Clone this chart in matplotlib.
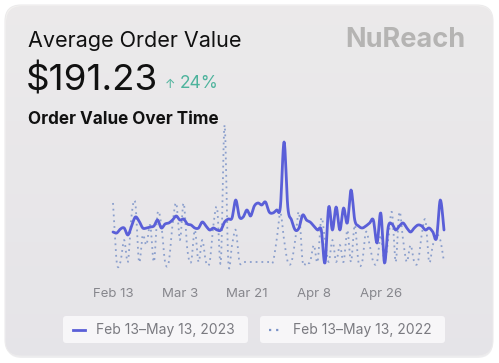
import numpy as np
import matplotlib.pyplot as plt
from matplotlib.patches import FancyBboxPatch
from matplotlib.lines import Line2D

plt.rcParams['font.family'] = ['Inter', 'DejaVu Sans']

# daily average order value, Feb 13 - May 13
days = np.arange(90)
value_2023 = [190, 185, 205, 210, 175, 220, 265, 245, 210, 210,
              215, 220, 250, 210, 230, 235, 250, 270, 250, 255,
              230, 225, 210, 210, 240, 220, 200, 210, 200, 200,
              240, 255, 260, 350, 265, 265, 300, 270, 320, 335,
              325, 340, 290, 285, 300, 315, 640, 315, 250, 200,
              210, 275, 250, 240, 220, 200, 200, 35, 315, 200,
              315, 200, 310, 235, 400, 250, 220, 210, 220, 235,
              250, 135, 285, 35, 215, 230, 200, 220, 235, 210,
              190, 210, 225, 220, 200, 210, 190, 160, 350, 200]
value_2022 = [335, 40, 40, 150, 40, 275, 335, 40, 175, 125,
              225, 40, 285, 225, 40, 40, 225, 335, 150, 335,
              100, 40, 200, 40, 150, 40, 40, 225, 310, 40,
              725, 40, 125, 200, 40, 40, 40, 40, 40, 40,
              40, 40, 40, 40, 150, 285, 150, 40, 40, 150,
              290, 40, 40, 40, 125, 40, 260, 150, 40, 150,
              40, 125, 40, 200, 40, 225, 40, 40, 190, 125,
              40, 40, 175, 40, 150, 290, 40, 290, 150, 40,
              125, 40, 40, 175, 250, 40, 125, 175, 150, 40]
tick_days = [0, 18, 36, 54, 72]
tick_labels = ['Feb 13', 'Mar 3', 'Mar 21', 'Apr 8', 'Apr 26']
legend_labels = ['Feb 13\u2013May 13, 2023', 'Feb 13\u2013May 13, 2022']


def smooth(x, y, n=8):
    # catmull-rom curve through the points, for a rounded line look
    x = np.asarray(x, float)
    y = np.asarray(y, float)
    px = np.concatenate([[x[0]], x, [x[-1]]])
    py = np.concatenate([[y[0]], y, [y[-1]]])
    xs, ys = [], []
    s = np.linspace(0, 1, n, endpoint=False)
    for i in range(1, len(px) - 2):
        for p, out in ((px, xs), (py, ys)):
            p0, p1, p2, p3 = p[i - 1], p[i], p[i + 1], p[i + 2]
            out.extend(0.5 * (2 * p1 + (-p0 + p2) * s
                              + (2 * p0 - 5 * p1 + 4 * p2 - p3) * s ** 2
                              + (-p0 + 3 * p1 - 3 * p2 + p3) * s ** 3))
    xs.append(x[-1])
    ys.append(y[-1])
    return xs, ys


W, H = 499, 363
fig = plt.figure(figsize=(W / 100, H / 100), dpi=100)
fig.patch.set_facecolor('white')

# card background with soft vertical gradient
bg = fig.add_axes([0, 0, 1, 1])
bg.set_xlim(0, W)
bg.set_ylim(H, 0)
bg.axis('off')
shadow = FancyBboxPatch((6, 6), W - 12, H - 11, boxstyle='round,pad=0,rounding_size=16',
                        fc='#e4e3e6', ec='none', alpha=0.6)
bg.add_patch(shadow)
card = FancyBboxPatch((5, 5), W - 11, H - 12, boxstyle='round,pad=0,rounding_size=16',
                      fc='none', ec='#ecebec', lw=0.8)
bg.add_patch(card)
top = np.array([0xf7, 0xf5, 0xf2]) / 255
bot = np.array([0xe8, 0xe6, 0xec]) / 255
t = np.linspace(0, 1, 256)[:, None]
grad = (top * (1 - t) + bot * t)[:, None, :]
im = bg.imshow(grad, extent=[0, W, H, 0], aspect='auto', zorder=0.5)
im.set_clip_path(card)

# legend boxes
for x0 in (63, 260):
    bg.add_patch(FancyBboxPatch((x0, 316), 185, 27, boxstyle='round,pad=0,rounding_size=3',
                                fc='#f7f6f8', ec='none', zorder=1))
bg.add_line(Line2D([73, 85], [329.5, 329.5], color='#5a5fd8', lw=2, zorder=2))
bg.add_line(Line2D([269, 281], [329.5, 329.5], color='#7b93c8', lw=1.6,
                   ls=(0, (1, 2.2)), zorder=2))
bg.text(96, 330, legend_labels[0], fontsize=10, color='#7a7a80', va='center', zorder=2)
bg.text(293, 330, legend_labels[1], fontsize=10, color='#7a7a80', va='center', zorder=2)

# header texts
bg.text(28, 47, 'Average Order Value', fontsize=15.5, color='#111111', va='baseline')
bg.text(26, 90, '$191.23', fontsize=26.5, color='#111111', va='baseline')
bg.text(165, 88, '\u2191', fontsize=9, color='#4db39c', va='baseline')
bg.text(180, 88, '24%', fontsize=12.5, color='#4db39c', va='baseline')
bg.text(28, 124, 'Order Value Over Time', fontsize=12.3, fontweight='bold',
        color='#111111', va='baseline')
bg.text(465, 47, 'NuReach', fontsize=19.5, fontweight='bold', color='#b5b4b3',
        va='baseline', ha='right')

# chart
ax = fig.add_axes([105 / W, 1 - 270 / H, 345 / W, 150 / H])
ax.patch.set_alpha(0)
ax.plot(*smooth(days, value_2022), color='#7b93c8', lw=1.3, ls=(0, (1, 2.2)), alpha=0.85)
ax.plot(*smooth(days, value_2023), color='#5a5fd8', lw=2, solid_joinstyle='round',
        solid_capstyle='round')
ax.set_xlim(-8 / 3.72, 89 + 6 / 3.72)
ax.set_ylim(0, 750)
ax.set_xticks(tick_days)
ax.set_xticklabels(tick_labels)
ax.set_yticks([])
ax.tick_params(axis='x', length=0, pad=13, labelsize=9.5, labelcolor='#86868c')
for s in ax.spines.values():
    s.set_visible(False)

fig.savefig('out.png', dpi=100)
